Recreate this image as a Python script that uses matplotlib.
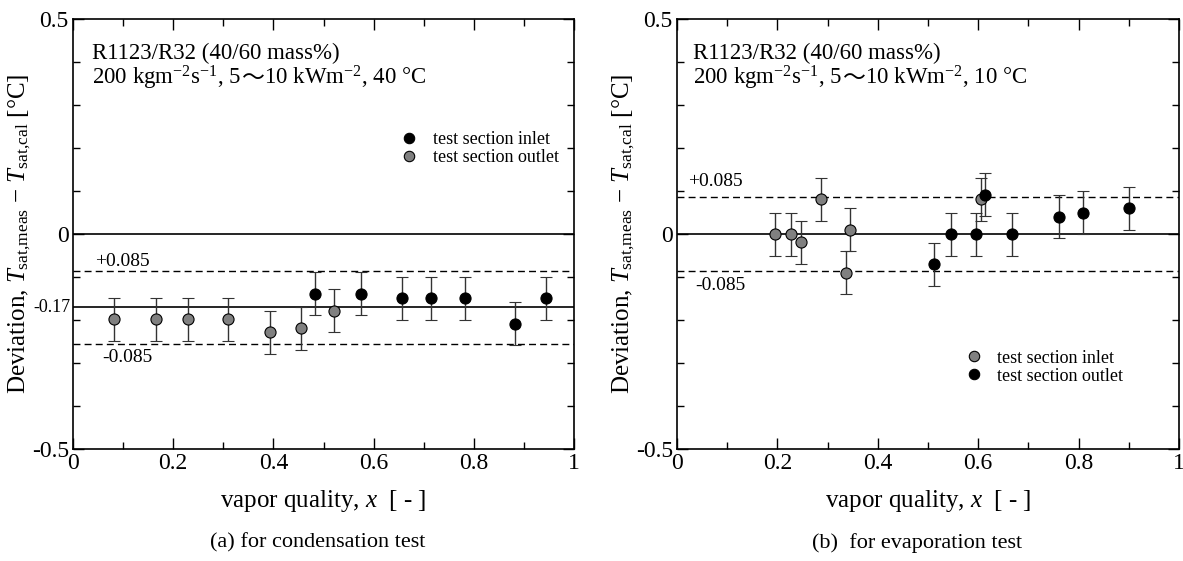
import numpy as np
import matplotlib.pyplot as plt
from matplotlib.lines import Line2D
from matplotlib.offsetbox import TextArea, HPacker, VPacker, AnchoredOffsetbox

plt.rcParams['font.family'] = ['Liberation Serif', 'DejaVu Serif']
plt.rcParams['mathtext.fontset'] = 'custom'
plt.rcParams['mathtext.rm'] = 'Liberation Serif'
plt.rcParams['mathtext.it'] = 'Liberation Serif:italic'

# (a) condensation
cond_in_x = [0.484, 0.574, 0.657, 0.714, 0.783, 0.882, 0.945]
cond_in_y = [-0.139, -0.139, -0.149, -0.149, -0.149, -0.209, -0.149]
cond_out_x = [0.081, 0.166, 0.229, 0.309, 0.394, 0.456, 0.521]
cond_out_y = [-0.198, -0.198, -0.198, -0.198, -0.229, -0.219, -0.178]
cond_mean = -0.17

# (b) evaporation
evap_in_x = [0.195, 0.228, 0.248, 0.287, 0.336, 0.345, 0.606]
evap_in_y = [0.0, 0.0, -0.019, 0.081, -0.090, 0.010, 0.081]
evap_out_x = [0.512, 0.546, 0.596, 0.614, 0.667, 0.760, 0.808, 0.901]
evap_out_y = [-0.070, 0.0, 0.0, 0.091, 0.0, 0.040, 0.050, 0.060]
evap_mean = 0.0

err = 0.05
band = 0.085
gray = '#808080'

fig = plt.figure(figsize=(11.83, 5.61), dpi=100)
ax1 = fig.add_axes([73/1183, 112/561, 501/1183, 430/561])
ax2 = fig.add_axes([677/1183, 112/561, 502/1183, 430/561])


def style(ax):
    ax.set_xlim(0, 1)
    ax.set_ylim(-0.5, 0.5)
    ax.set_xticks(np.arange(0, 1.01, 0.2))
    ax.set_xticks(np.arange(0, 1.01, 0.1), minor=True)
    ax.set_xticklabels(['0', '0.2', '0.4', '0.6', '0.8', '1'])
    ax.set_yticks([-0.5, 0, 0.5])
    ax.set_yticklabels(['-0.5', '0', '0.5'])
    ax.set_yticks(np.arange(-0.5, 0.51, 0.1), minor=True)
    ax.tick_params(which='both', direction='in', top=True, right=True,
                   labelsize=17, width=1, pad=3)
    ax.tick_params(which='major', length=8)
    ax.tick_params(which='minor', length=5)
    for s in ax.spines.values():
        s.set_linewidth(1.2)
    ax.set_xlabel('vapor quality, $x$  [ - ]', fontsize=18, labelpad=10)
    ax.set_ylabel(r'Deviation, $T_{\rm sat{,}meas}$ $-$ $T_{\rm sat{,}cal}$ [°C]',
                  fontsize=18)
    ax.yaxis.set_label_coords(-0.079, 0.5)


def points(ax, x, y, color):
    ax.errorbar(x, y, yerr=err, fmt='o', color=color, mec='k', mew=0.8,
                ms=8, ecolor='0.2', elinewidth=1, capsize=4.5, capthick=1,
                zorder=3)


def header(ax, x, temp):
    fs = 16.5
    line1 = TextArea('R1123/R32 (40/60 mass%)', textprops=dict(fontsize=fs))
    line2 = HPacker(children=[
        TextArea('200 kgm$^{-2}$s$^{-1}$, 5', textprops=dict(fontsize=fs)),
        TextArea('～', textprops=dict(fontsize=fs, family=['Noto Sans CJK JP'])),
        TextArea('10 kWm$^{-2}$, ' + temp, textprops=dict(fontsize=fs)),
    ], align='baseline', pad=0, sep=0)
    box = VPacker(children=[line1, line2], align='left', pad=0, sep=0)
    ab = AnchoredOffsetbox(loc='upper left', child=box, pad=0, borderpad=0,
                           frameon=False, bbox_to_anchor=(x, 0.945),
                           bbox_transform=ax.transAxes)
    ax.add_artist(ab)


def legend(ax, labels, colors, anchor):
    handles = [Line2D([], [], ls='none', marker='o', ms=7.5, mfc=c, mec='k',
                      mew=0.8) for c in colors]
    ax.legend(handles, labels, loc='upper left', bbox_to_anchor=anchor,
              frameon=False, fontsize=13, handlelength=1.0, handletextpad=0.8,
              labelspacing=0.05, borderpad=0)


# left panel
style(ax1)
ax1.axhline(0, color='k', lw=1.2)
ax1.axhline(cond_mean, color='k', lw=1.2)
ax1.axhline(cond_mean + band, color='k', lw=1, ls=(0, (5, 3)))
ax1.axhline(cond_mean - band, color='k', lw=1, ls=(0, (5, 3)))
points(ax1, cond_in_x, cond_in_y, 'k')
points(ax1, cond_out_x, cond_out_y, gray)
ax1.text(0.044, -0.065, '+0.085', fontsize=14, va='center')
ax1.text(0.059, -0.288, '-0.085', fontsize=14, va='center')
ax1.text(-0.005, cond_mean, '-0.17', fontsize=13, ha='right', va='center')
header(ax1, 0.038, '40 °C')
legend(ax1, ['test section inlet', 'test section outlet'], ['k', gray],
       (0.635, 0.76))

# right panel
style(ax2)
ax2.axhline(evap_mean, color='k', lw=1.2)
ax2.axhline(evap_mean + band, color='k', lw=1, ls=(0, (5, 3)))
ax2.axhline(evap_mean - band, color='k', lw=1, ls=(0, (5, 3)))
points(ax2, evap_in_x, evap_in_y, gray)
points(ax2, evap_out_x, evap_out_y, 'k')
ax2.text(0.021, 0.122, '+0.085', fontsize=14, va='center')
ax2.text(0.036, -0.120, '-0.085', fontsize=14, va='center')
header(ax2, 0.032, '10 °C')
legend(ax2, ['test section inlet', 'test section outlet'], [gray, 'k'],
       (0.555, 0.252))

fig.text(318/1183, 1 - 543/561, '(a) for condensation test', fontsize=16,
         ha='center', va='center')
fig.text(917/1183, 1 - 543/561, '(b)  for evaporation test', fontsize=16,
         ha='center', va='center')

fig.savefig('out.png', dpi=100)
